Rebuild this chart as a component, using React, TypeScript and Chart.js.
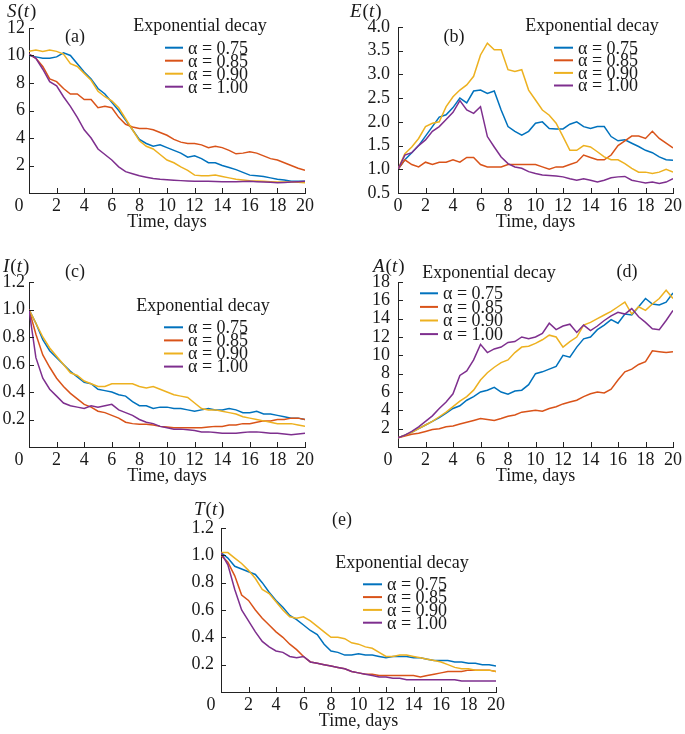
import React, { useEffect, useRef } from 'react';
import { Chart, registerables } from 'chart.js';

Chart.register(...registerables);

// ---------------- data ----------------
const TIME = [0, 0.5, 1, 1.5, 2, 2.5, 3, 3.5, 4, 4.5, 5, 5.5, 6, 6.5, 7, 7.5, 8, 8.5, 9, 9.5, 10,
  10.5, 11, 11.5, 12, 12.5, 13, 13.5, 14, 14.5, 15, 15.5, 16, 16.5, 17, 17.5, 18, 18.5, 19, 19.5, 20];

const ALPHA_LABELS = ['α = 0.75', 'α = 0.85', 'α = 0.90', 'α = 1.00'];
const LEGEND_TITLE = 'Exponential decay';
const X_TITLE = 'Time, days';

// (a) S(t)
const S_075 = [10.0, 9.9, 9.8, 9.8, 9.9, 10.2, 10.0, 9.4, 8.8, 8.3, 7.6, 7.2, 6.6, 6.0, 5.3, 4.6, 3.9, 3.6, 3.4, 3.5, 3.3, 3.1, 2.9, 2.6, 2.7, 2.5, 2.2, 2.2, 2.0, 1.85, 1.7, 1.5, 1.3, 1.25, 1.2, 1.1, 1.0, 0.95, 0.85, 0.85, 0.85];
const S_085 = [10.1, 9.8, 9.2, 8.3, 8.1, 7.6, 7.2, 7.2, 6.8, 6.8, 6.2, 6.3, 6.2, 5.5, 5.0, 4.8, 4.7, 4.7, 4.6, 4.4, 4.2, 3.9, 3.7, 3.6, 3.6, 3.5, 3.3, 3.4, 3.3, 3.1, 2.85, 2.9, 3.0, 2.9, 2.7, 2.5, 2.4, 2.2, 2.0, 1.8, 1.65];
const S_090 = [10.3, 10.4, 10.3, 10.4, 10.3, 10.1, 9.4, 9.2, 8.7, 8.2, 7.4, 7.0, 6.7, 6.2, 5.4, 4.6, 3.8, 3.4, 3.2, 2.8, 2.4, 2.2, 1.9, 1.65, 1.3, 1.25, 1.25, 1.3, 1.2, 1.1, 1.0, 0.95, 0.9, 0.88, 0.85, 0.82, 0.8, 0.8, 0.8, 0.78, 0.75];
const S_100 = [10.1, 9.8, 9.0, 8.1, 7.8, 7.0, 6.3, 5.5, 4.6, 4.0, 3.2, 2.8, 2.4, 1.9, 1.55, 1.4, 1.25, 1.15, 1.05, 1.0, 0.97, 0.93, 0.9, 0.88, 0.86, 0.85, 0.85, 0.84, 0.82, 0.82, 0.82, 0.83, 0.85, 0.82, 0.8, 0.78, 0.75, 0.77, 0.8, 0.82, 0.85];

// (b) E(t)
const E_075 = [1.0, 1.2, 1.35, 1.5, 1.7, 1.9, 2.1, 2.15, 2.3, 2.5, 2.4, 2.65, 2.67, 2.6, 2.65, 2.25, 1.9, 1.8, 1.72, 1.8, 1.97, 2.0, 1.86, 1.85, 1.85, 1.95, 2.0, 1.9, 1.86, 1.9, 1.9, 1.69, 1.6, 1.62, 1.55, 1.48, 1.4, 1.35, 1.26, 1.2, 1.19];
const E_085 = [1.0, 1.2, 1.1, 1.05, 1.15, 1.1, 1.15, 1.15, 1.2, 1.15, 1.25, 1.25, 1.1, 1.05, 1.05, 1.05, 1.1, 1.1, 1.1, 1.1, 1.1, 1.05, 1.0, 1.05, 1.05, 1.1, 1.15, 1.3, 1.25, 1.2, 1.2, 1.3, 1.5, 1.6, 1.7, 1.7, 1.65, 1.8, 1.65, 1.55, 1.45];
const E_090 = [1.0, 1.33, 1.47, 1.65, 1.9, 1.97, 2.0, 2.32, 2.53, 2.67, 2.78, 2.96, 3.41, 3.66, 3.52, 3.52, 3.1, 3.06, 3.1, 2.67, 2.46, 2.25, 2.14, 1.97, 1.69, 1.4, 1.4, 1.5, 1.47, 1.37, 1.26, 1.2, 1.2, 1.12, 1.02, 0.94, 0.94, 0.91, 0.94, 1.0, 0.94];
const E_100 = [1.0, 1.3, 1.35, 1.5, 1.62, 1.8, 1.9, 2.05, 2.2, 2.45, 2.25, 2.18, 2.32, 1.69, 1.47, 1.26, 1.12, 1.05, 1.02, 0.95, 0.91, 0.88, 0.87, 0.86, 0.84, 0.8, 0.77, 0.8, 0.77, 0.73, 0.77, 0.82, 0.84, 0.85, 0.77, 0.74, 0.71, 0.73, 0.7, 0.73, 0.8];

// (c) I(t)
const I_075 = [1.0, 0.9, 0.78, 0.7, 0.65, 0.6, 0.55, 0.51, 0.47, 0.46, 0.42, 0.41, 0.4, 0.38, 0.37, 0.33, 0.3, 0.3, 0.28, 0.29, 0.29, 0.28, 0.28, 0.27, 0.26, 0.27, 0.28, 0.27, 0.27, 0.28, 0.27, 0.25, 0.25, 0.26, 0.24, 0.24, 0.23, 0.22, 0.21, 0.21, 0.2];
const I_085 = [1.0, 0.82, 0.67, 0.58, 0.5, 0.44, 0.39, 0.35, 0.31, 0.29, 0.26, 0.25, 0.23, 0.21, 0.18, 0.17, 0.165, 0.165, 0.16, 0.15, 0.145, 0.14, 0.14, 0.14, 0.14, 0.14, 0.145, 0.15, 0.15, 0.16, 0.16, 0.17, 0.17, 0.18, 0.19, 0.19, 0.2, 0.2, 0.21, 0.21, 0.2];
const I_090 = [1.0, 0.9, 0.8, 0.72, 0.66, 0.6, 0.54, 0.52, 0.48, 0.46, 0.44, 0.44, 0.46, 0.46, 0.46, 0.46, 0.44, 0.43, 0.44, 0.42, 0.4, 0.38, 0.37, 0.36, 0.32, 0.28, 0.27, 0.27, 0.26, 0.25, 0.24, 0.22, 0.21, 0.2, 0.19, 0.18, 0.17, 0.17, 0.17, 0.16, 0.15];
const I_100 = [1.0, 0.65, 0.5, 0.42, 0.37, 0.32, 0.3, 0.29, 0.28, 0.3, 0.29, 0.3, 0.31, 0.27, 0.25, 0.23, 0.2, 0.18, 0.17, 0.15, 0.14, 0.13, 0.13, 0.125, 0.12, 0.11, 0.11, 0.105, 0.1, 0.1, 0.1, 0.105, 0.11, 0.11, 0.105, 0.1, 0.1, 0.095, 0.09, 0.095, 0.1];

// (d) A(t)
const A_075 = [1.0, 1.3, 1.6, 2.0, 2.4, 2.8, 3.2, 3.7, 4.2, 4.5, 5.1, 5.5, 6.0, 6.2, 6.5, 6.0, 5.75, 6.1, 6.2, 6.8, 8.0, 8.2, 8.5, 8.8, 10.0, 9.8, 10.9, 11.8, 12.0, 12.8, 13.3, 13.9, 13.5, 14.5, 14.4, 15.3, 16.2, 15.6, 15.5, 15.8, 16.8];
const A_085 = [1.0, 1.2, 1.4, 1.5, 1.7, 1.9, 2.0, 2.2, 2.3, 2.5, 2.7, 2.9, 3.1, 3.0, 2.9, 3.1, 3.35, 3.5, 3.8, 3.9, 4.0, 3.9, 4.2, 4.4, 4.7, 4.9, 5.1, 5.5, 5.8, 6.0, 5.9, 6.3, 7.3, 8.2, 8.5, 9.0, 9.3, 10.5, 10.4, 10.3, 10.4];
const A_090 = [1.0, 1.3, 1.6, 2.0, 2.4, 2.8, 3.3, 3.8, 4.4, 5.0, 5.5, 6.2, 7.3, 8.1, 8.7, 9.2, 9.5, 10.3, 10.9, 11.0, 11.3, 11.7, 12.2, 12.0, 10.9, 11.5, 12.0, 13.3, 13.6, 14.0, 14.4, 14.8, 15.3, 15.8, 14.5, 15.3, 14.9, 15.6, 16.2, 17.1, 16.2];
const A_100 = [1.0, 1.3, 1.7, 2.2, 2.8, 3.4, 4.2, 4.9, 5.8, 7.8, 8.3, 9.5, 11.2, 10.3, 10.7, 10.9, 11.4, 11.5, 12.0, 11.8, 12.0, 12.4, 13.5, 12.8, 13.2, 13.4, 12.5, 13.3, 12.7, 13.2, 13.8, 14.3, 14.7, 14.5, 15.1, 14.2, 13.6, 12.9, 12.8, 13.8, 14.9];

// (e) T(t)
const T_075 = [1.02, 0.98, 0.92, 0.9, 0.88, 0.86, 0.8, 0.73, 0.67, 0.62, 0.56, 0.53, 0.49, 0.45, 0.42, 0.35, 0.3, 0.29, 0.27, 0.27, 0.28, 0.27, 0.27, 0.26, 0.25, 0.26, 0.26, 0.26, 0.25, 0.25, 0.24, 0.23, 0.23, 0.23, 0.22, 0.22, 0.21, 0.21, 0.2, 0.2, 0.19];
const T_085 = [1.0, 0.95, 0.85, 0.71, 0.67, 0.6, 0.54, 0.49, 0.44, 0.4, 0.35, 0.31, 0.26, 0.22, 0.21, 0.2, 0.19, 0.18, 0.17, 0.15, 0.14, 0.13, 0.13, 0.12, 0.12, 0.12, 0.12, 0.12, 0.12, 0.11, 0.12, 0.13, 0.14, 0.15, 0.15, 0.15, 0.16, 0.16, 0.16, 0.16, 0.15];
const T_090 = [1.02, 1.02, 0.98, 0.94, 0.89, 0.83, 0.75, 0.72, 0.66, 0.6, 0.55, 0.54, 0.55, 0.52, 0.48, 0.44, 0.4, 0.4, 0.39, 0.36, 0.35, 0.33, 0.32, 0.29, 0.26, 0.26, 0.27, 0.27, 0.26, 0.25, 0.24, 0.23, 0.22, 0.2, 0.18, 0.17, 0.17, 0.16, 0.16, 0.16, 0.15];
const T_100 = [1.02, 0.93, 0.75, 0.6, 0.52, 0.44, 0.37, 0.33, 0.3, 0.29, 0.26, 0.25, 0.26, 0.22, 0.21, 0.2, 0.19, 0.18, 0.17, 0.15, 0.14, 0.13, 0.12, 0.11, 0.11, 0.1, 0.1, 0.09, 0.09, 0.09, 0.09, 0.09, 0.09, 0.09, 0.09, 0.08, 0.08, 0.08, 0.08, 0.08, 0.08];

// ---------------- styles ----------------
const COLORS = ['#0072BD', '#D95319', '#EDB120', '#7E2F8E'];
const FONT = '"Liberation Serif", "Times New Roman", Times, serif';
const TEXT_COLOR = '#1a1a1a';
const AXIS_COLOR = '#222222';
const FONT_SIZE = 18;
const VAR_FONT_SIZE = 19;
const TICK_LEN = 5;
const TICK_PAD = 2;

type Panel = {
  key: string;
  varName: string;
  panelLabel: string;
  series: number[][];
  yMin: number; yMax: number; yStep: number; yDec: number;
  shiftZero: boolean;
  box: { left: number; top: number; width: number; height: number };
  area: { l: number; r: number; t: number; b: number };
  yPad: number;
  varPos: [number, number];
  labelPos: [number, number];
  legTitle: [number, number];
  legLine: [number, number];
  legRow0: number;
  legDy: number;
};

const PANELS: Panel[] = [
  {
    key: 'a', varName: 'S', panelLabel: '(a)', series: [S_075, S_085, S_090, S_100],
    yMin: 0, yMax: 12, yStep: 2, yDec: 0, shiftZero: true,
    box: { left: 0, top: 0, width: 340, height: 240 }, area: { l: 29, r: 305, t: 28, b: 193 }, yPad: 4,
    varPos: [7, 16.5], labelPos: [75, 37], legTitle: [200, 31], legLine: [165, 183], legRow0: 47.7, legDy: 13,
  },
  {
    key: 'b', varName: 'E', panelLabel: '(b)', series: [E_075, E_085, E_090, E_100],
    yMin: 0.5, yMax: 4, yStep: 0.5, yDec: 1, shiftZero: false,
    box: { left: 340, top: 0, width: 345, height: 240 }, area: { l: 398, r: 673, t: 27, b: 193 }, yPad: 8,
    varPos: [350, 16.5], labelPos: [454, 37], legTitle: [592, 31], legLine: [554, 573], legRow0: 47.7, legDy: 12.6,
  },
  {
    key: 'c', varName: 'I', panelLabel: '(c)', series: [I_075, I_085, I_090, I_100],
    yMin: 0, yMax: 1.2, yStep: 0.2, yDec: 1, shiftZero: true,
    box: { left: 0, top: 240, width: 340, height: 245 }, area: { l: 29, r: 305, t: 282, b: 447 }, yPad: 4,
    varPos: [3, 272], labelPos: [75, 272], legTitle: [203, 311], legLine: [164, 183], legRow0: 327.3, legDy: 13.1,
  },
  {
    key: 'd', varName: 'A', panelLabel: '(d)', series: [A_075, A_085, A_090, A_100],
    yMin: 0, yMax: 18, yStep: 2, yDec: 0, shiftZero: true,
    box: { left: 340, top: 240, width: 345, height: 245 }, area: { l: 398, r: 673, t: 282, b: 447 }, yPad: 8,
    varPos: [373, 272], labelPos: [627, 272], legTitle: [489, 277.7], legLine: [420, 438], legRow0: 293.3, legDy: 13.6,
  },
  {
    key: 'e', varName: 'T', panelLabel: '(e)', series: [T_075, T_085, T_090, T_100],
    yMin: 0, yMax: 1.2, yStep: 0.2, yDec: 1, shiftZero: true,
    box: { left: 180, top: 485, width: 330, height: 249 }, area: { l: 221, r: 496, t: 528, b: 692 }, yPad: 7,
    varPos: [194, 515], labelPos: [342, 520], legTitle: [402, 568], legLine: [363, 382], legRow0: 584.3, legDy: 12.8,
  },
];

const decorPlugin = {
  id: 'decor',
  afterDraw(chart: any, _args: any, opts: any) {
    const p: Panel = opts.panel;
    if (!p) return;
    const ctx: CanvasRenderingContext2D = chart.ctx;
    const { left, right, bottom } = chart.chartArea;
    const ox = p.box.left;
    const oy = p.box.top;
    const xs = chart.scales.x;
    const ys = chart.scales.y;
    ctx.save();

    // inward tick marks
    ctx.strokeStyle = AXIS_COLOR;
    ctx.lineWidth = 1;
    ctx.beginPath();
    xs.ticks.forEach((t: any) => {
      if (t.value === xs.min) return;
      const px = Math.round(xs.getPixelForValue(t.value)) + 0.5;
      ctx.moveTo(px, bottom);
      ctx.lineTo(px, bottom - TICK_LEN);
    });
    ys.ticks.forEach((t: any) => {
      if (t.value === ys.min) return;
      const py = Math.round(ys.getPixelForValue(t.value)) + 0.5;
      ctx.moveTo(left, py);
      ctx.lineTo(left + TICK_LEN, py);
    });
    ctx.stroke();

    ctx.fillStyle = TEXT_COLOR;
    const normal = `${FONT_SIZE}px ${FONT}`;
    const lineH = FONT_SIZE * 1.2;

    // shared origin label
    if (p.shiftZero) {
      ctx.font = normal;
      ctx.textAlign = 'center';
      ctx.textBaseline = 'middle';
      ctx.fillText('0', left - 10, bottom + TICK_PAD + lineH / 2);
    }

    // x-axis title
    ctx.font = normal;
    ctx.textAlign = 'center';
    ctx.textBaseline = 'middle';
    ctx.fillText(X_TITLE, (left + right) / 2, bottom + 29);

    // y variable label, e.g. S(t)
    const ital = `italic ${VAR_FONT_SIZE}px ${FONT}`;
    const normVar = `${VAR_FONT_SIZE}px ${FONT}`;
    ctx.textAlign = 'left';
    ctx.textBaseline = 'alphabetic';
    let vx = p.varPos[0] - ox;
    const vy = p.varPos[1] - oy;
    const parts: [string, string][] = [[p.varName, ital], ['(', normVar], ['t', ital], [')', normVar]];
    parts.forEach(([s, f]) => {
      ctx.font = f;
      ctx.fillText(s, vx, vy);
      vx += ctx.measureText(s).width + (f === ital ? 1 : 0);
    });

    // panel label
    ctx.font = normal;
    ctx.textAlign = 'center';
    ctx.textBaseline = 'middle';
    ctx.fillText(p.panelLabel, p.labelPos[0] - ox, p.labelPos[1] - oy);

    // legend
    ctx.textBaseline = 'alphabetic';
    ctx.fillText(LEGEND_TITLE, p.legTitle[0] - ox, p.legTitle[1] - oy);
    ctx.textAlign = 'left';
    ALPHA_LABELS.forEach((lab, i) => {
      const ly = p.legRow0 + i * p.legDy - oy;
      ctx.strokeStyle = COLORS[i];
      ctx.lineWidth = 2;
      ctx.beginPath();
      ctx.moveTo(p.legLine[0] - ox, ly);
      ctx.lineTo(p.legLine[1] - ox, ly);
      ctx.stroke();
      ctx.fillStyle = TEXT_COLOR;
      ctx.fillText(lab, p.legLine[1] + 5 - ox, ly + 5.8);
    });
    ctx.restore();
  },
};

function PanelChart({ p }: { p: Panel }) {
  const ref = useRef<HTMLCanvasElement | null>(null);
  useEffect(() => {
    if (!ref.current) return;
    const yAxisW = p.area.l - p.box.left;
    const xAxisH = p.box.top + p.box.height - p.area.b;
    const tickFont = { family: FONT, size: FONT_SIZE };
    const chart = new Chart(ref.current, {
      type: 'line',
      data: {
        datasets: p.series.map((s, i) => ({
          label: ALPHA_LABELS[i],
          data: TIME.map((t, j) => ({ x: t, y: s[j] })),
          borderColor: COLORS[i],
          backgroundColor: COLORS[i],
          borderWidth: 1.5,
          pointRadius: 0,
          tension: 0,
          fill: false,
          order: 3 - i,
        })),
      },
      options: {
        responsive: false,
        animation: false,
        events: [],
        layout: {
          padding: {
            left: 0,
            top: p.area.t - p.box.top,
            right: p.box.left + p.box.width - p.area.r,
            bottom: 0,
          },
        },
        plugins: {
          legend: { display: false },
          tooltip: { enabled: false },
          decor: { panel: p },
        } as any,
        scales: {
          x: {
            type: 'linear',
            min: 0,
            max: 20,
            grid: { display: false, drawTicks: false },
            border: { display: true, color: AXIS_COLOR, width: 1 },
            ticks: {
              stepSize: 2,
              autoSkip: false,
              maxRotation: 0,
              padding: TICK_PAD,
              color: TEXT_COLOR,
              font: tickFont,
              callback: (v: any) => (p.shiftZero && Number(v) === 0 ? '' : String(v)),
            },
            afterFit: (scale: any) => { scale.height = xAxisH; },
          },
          y: {
            type: 'linear',
            min: p.yMin,
            max: p.yMax,
            grid: { display: false, drawTicks: false },
            border: { display: true, color: AXIS_COLOR, width: 1 },
            ticks: {
              stepSize: p.yStep,
              autoSkip: false,
              padding: p.yPad,
              color: TEXT_COLOR,
              font: tickFont,
              callback: (v: any) => {
                const n = Number(v);
                if (Math.abs(n) < 1e-9) return '';
                return n.toFixed(p.yDec);
              },
            },
            afterFit: (scale: any) => { scale.width = yAxisW; },
          },
        },
      },
      plugins: [decorPlugin],
    } as any);
    return () => chart.destroy();
  }, [p]);
  return (
    <canvas
      ref={ref}
      width={p.box.width}
      height={p.box.height}
      style={{ position: 'absolute', left: p.box.left, top: p.box.top, width: p.box.width, height: p.box.height }}
    />
  );
}

export default function App() {
  return (
    <div style={{ position: 'absolute', left: 0, top: 0, width: 685, height: 734, background: '#ffffff', overflow: 'hidden' }}>
      {PANELS.map((p) => (
        <PanelChart key={p.key} p={p} />
      ))}
    </div>
  );
}
